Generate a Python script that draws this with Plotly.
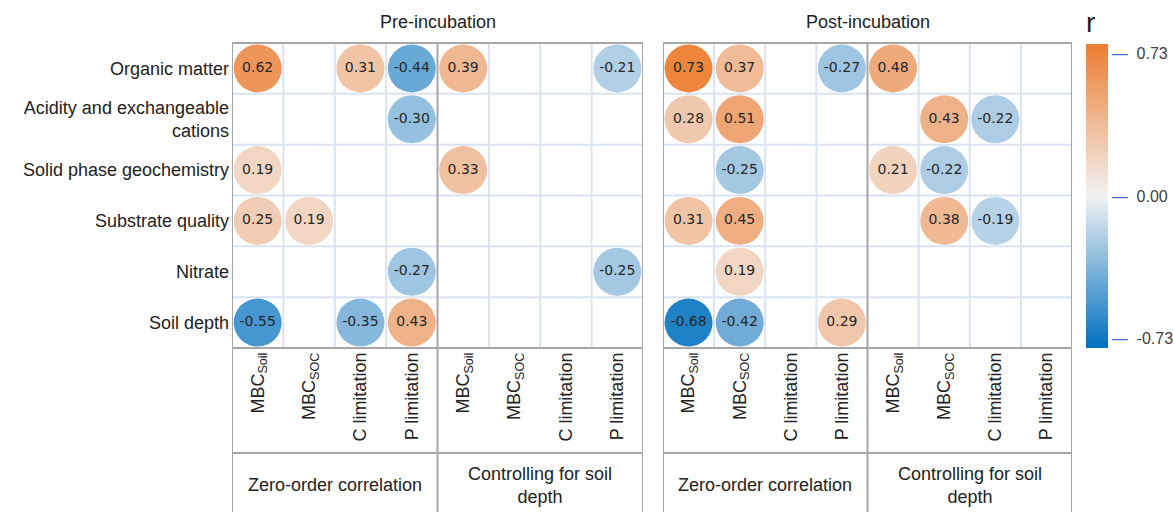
import plotly.graph_objects as go

# ---------------- data ----------------
row_labels = ["Organic matter", "Acidity and exchangeable<br>cations", "Solid phase geochemistry",
              "Substrate quality", "Nitrate", "Soil depth"]
col_labels = ["MBC<sub>Soil</sub>", "MBC<sub>SOC</sub>", "C limitation", "P limitation",
              "MBC<sub>Soil</sub>", "MBC<sub>SOC</sub>", "C limitation", "P limitation"]
group_labels = ["Zero-order correlation", "Controlling for soil<br>depth"]
panel_titles = ["Pre-incubation", "Post-incubation"]

N = None
pre_organic_matter = [0.62, N, 0.31, -0.44, 0.39, N, N, -0.21]
pre_acidity = [N, N, N, -0.30, N, N, N, N]
pre_solid_phase = [0.19, N, N, N, 0.33, N, N, N]
pre_substrate = [0.25, 0.19, N, N, N, N, N, N]
pre_nitrate = [N, N, N, -0.27, N, N, N, -0.25]
pre_soil_depth = [-0.55, N, -0.35, 0.43, N, N, N, N]

post_organic_matter = [0.73, 0.37, N, -0.27, 0.48, N, N, N]
post_acidity = [0.28, 0.51, N, N, N, 0.43, -0.22, N]
post_solid_phase = [N, -0.25, N, N, 0.21, -0.22, N, N]
post_substrate = [0.31, 0.45, N, N, N, 0.38, -0.19, N]
post_nitrate = [N, 0.19, N, N, N, N, N, N]
post_soil_depth = [-0.68, -0.42, N, 0.29, N, N, N, N]

pre_rows = [pre_organic_matter, pre_acidity, pre_solid_phase, pre_substrate, pre_nitrate, pre_soil_depth]
post_rows = [post_organic_matter, post_acidity, post_solid_phase, post_substrate, post_nitrate, post_soil_depth]

cbar_ticks = [-0.73, 0.0, 0.73]

# ---------------- geometry helpers ----------------
W, H = 1174, 512
def px(x):
    return x / W
def py(y):
    return 1 - y / H

TOP, BOT = 43, 348
panels_px = [(232, 643), (663, 1072)]

GRAY = "#A6A6A6"
LIGHT = "#DAE3F3"
TXT = "#222222"
FONT = "Liberation Sans, Arial, sans-serif"

fig = go.Figure()

for p, rows in enumerate([pre_rows, post_rows]):
    xs, ys, vs = [], [], []
    for i, r in enumerate(rows):
        for j, v in enumerate(r):
            if v is not None:
                xs.append(j)
                ys.append(i)
                vs.append(v)
    sfx = "" if p == 0 else "2"
    fig.add_trace(go.Scatter(
        x=xs, y=ys, mode="markers+text",
        text=[f"{v:.2f}" for v in vs],
        textposition="middle center",
        textfont=dict(family="DejaVu Sans, sans-serif", size=14, color="#262626"),
        marker=dict(size=48, color=vs, coloraxis="coloraxis", line=dict(width=0)),
        xaxis="x" + sfx, yaxis="y" + sfx,
        hoverinfo="skip", showlegend=False,
    ))

layout_axes = {}
for p, (x0, x1) in enumerate(panels_px):
    sfx = "" if p == 0 else "2"
    layout_axes["xaxis" + sfx] = dict(
        domain=[px(x0), px(x1)], range=[-0.5, 7.5], anchor="y" + sfx,
        tickmode="array", tickvals=list(range(len(col_labels))), ticktext=col_labels,
        tickangle=-90, showgrid=False, zeroline=False, showline=False, ticks="",
        tickfont=dict(family=FONT, size=18, color=TXT), automargin=False, fixedrange=True,
    )
    layout_axes["yaxis" + sfx] = dict(
        domain=[py(BOT), py(TOP)], range=[5.5, -0.5], anchor="x" + sfx,
        tickmode="array", tickvals=list(range(len(row_labels))), ticktext=row_labels,
        showticklabels=(p == 0), showgrid=False, zeroline=False, showline=False, ticks="",
        tickfont=dict(family=FONT, size=18, color=TXT), automargin=False, fixedrange=True,
        ticklabelstandoff=2,
    )

shapes = []
annotations = []
for p in range(2):
    sfx = "" if p == 0 else "2"
    xr, yr = "x" + sfx, "y" + sfx
    for xv in [0.5, 1.5, 2.5, 4.5, 5.5, 6.5]:
        shapes.append(dict(type="line", xref=xr, yref=yr, x0=xv, x1=xv, y0=-0.5, y1=5.5,
                           line=dict(color=LIGHT, width=2), layer="below"))
    for yv in [0.5, 1.5, 2.5, 3.5, 4.5]:
        shapes.append(dict(type="line", xref=xr, yref=yr, x0=-0.5, x1=7.5, y0=yv, y1=yv,
                           line=dict(color=LIGHT, width=2), layer="below"))
    for xv in [-0.5, 3.5, 7.5]:
        shapes.append(dict(type="line", xref=xr, yref="paper", x0=xv, x1=xv, y0=-0.02, y1=py(TOP),
                           line=dict(color=GRAY, width=2), layer="above"))
    for yp in [TOP, BOT, 453]:
        shapes.append(dict(type="line", xref=xr, yref="paper", x0=-0.5, x1=7.5, y0=py(yp), y1=py(yp),
                           line=dict(color=GRAY, width=2), layer="above"))
    for g, xc in zip(group_labels, [1.5, 5.5]):
        annotations.append(dict(xref=xr, yref="paper", x=xc, y=py(485), text=g, showarrow=False,
                                xanchor="center", yanchor="middle",
                                font=dict(family=FONT, size=18, color=TXT)))
    annotations.append(dict(xref=xr, yref="paper", x=3.5, y=py(22), text=panel_titles[p], showarrow=False,
                            xanchor="center", yanchor="middle",
                            font=dict(family=FONT, size=18, color=TXT)))

dash = '<span style="color:#4472C4">\u2014</span>\u00a0\u00a0'
CB_TOP = 8
fig.update_layout(
    width=W, height=H,
    margin=dict(l=0, r=0, t=0, b=0),
    paper_bgcolor="white", plot_bgcolor="white",
    shapes=shapes, annotations=annotations,
    coloraxis=dict(
        cmin=-0.78, cmax=0.78,
        colorscale=[[0.0, "#0070C0"], [0.5, "#F2F2F2"], [1.0, "#ED7D31"]],
        colorbar=dict(
            x=px(1086), xanchor="left", xpad=0,
            y=py(CB_TOP), yanchor="top", ypad=0,
            len=(BOT - CB_TOP) / H, lenmode="fraction",
            thickness=22, outlinewidth=0, ticks="",
            tickmode="array", tickvals=cbar_ticks,
            ticktext=[dash + f"{t:.2f}" for t in cbar_ticks],
            tickfont=dict(family=FONT, size=16, color="#404040"),
            title=dict(text="r", side="top", font=dict(family=FONT, size=28, color=TXT)),
        ),
    ),
    **layout_axes,
)

fig.write_html("out.html", config={"displayModeBar": False},
               post_script="document.body.style.margin='0';document.body.style.overflow='hidden';")
